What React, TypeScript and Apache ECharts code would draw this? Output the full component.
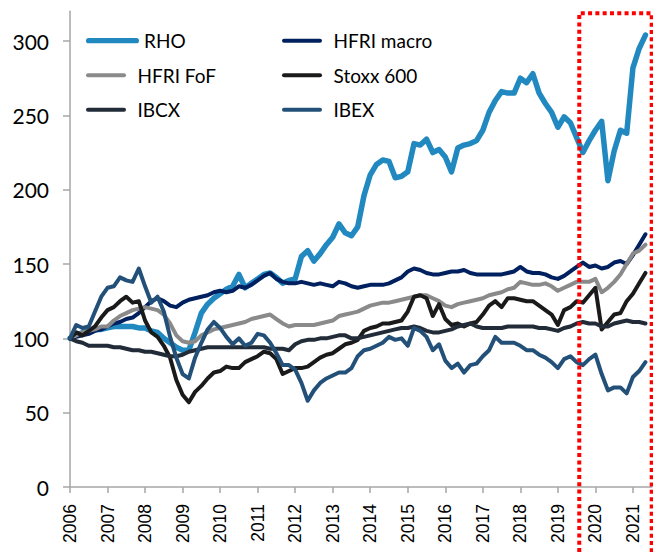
import React, { useEffect, useRef } from "react";
import * as echarts from "echarts";

const months = [
  "2006-01", "2006-03", "2006-05", "2006-07", "2006-09", "2006-11",
  "2007-01", "2007-03", "2007-05", "2007-07", "2007-09", "2007-11",
  "2008-01", "2008-03", "2008-05", "2008-07", "2008-09", "2008-11",
  "2009-01", "2009-03", "2009-05", "2009-07", "2009-09", "2009-11",
  "2010-01", "2010-03", "2010-05", "2010-07", "2010-09", "2010-11",
  "2011-01", "2011-03", "2011-05", "2011-07", "2011-09", "2011-11",
  "2012-01", "2012-03", "2012-05", "2012-07", "2012-09", "2012-11",
  "2013-01", "2013-03", "2013-05", "2013-07", "2013-09", "2013-11",
  "2014-01", "2014-03", "2014-05", "2014-07", "2014-09", "2014-11",
  "2015-01", "2015-03", "2015-05", "2015-07", "2015-09", "2015-11",
  "2016-01", "2016-03", "2016-05", "2016-07", "2016-09", "2016-11",
  "2017-01", "2017-03", "2017-05", "2017-07", "2017-09", "2017-11",
  "2018-01", "2018-03", "2018-05", "2018-07", "2018-09", "2018-11",
  "2019-01", "2019-03", "2019-05", "2019-07", "2019-09", "2019-11",
  "2020-01", "2020-03", "2020-05", "2020-07", "2020-09", "2020-11",
  "2021-01", "2021-03", "2021-05",
];

const yearTicks = [2006, 2007, 2008, 2009, 2010, 2011, 2012, 2013, 2014, 2015, 2016, 2017, 2018, 2019, 2020, 2021];
const valueTicks = [0, 50, 100, 150, 200, 250, 300];

const rho = [
  100, 102, 104, 105, 106, 106,
  107, 108, 108, 108, 108, 107,
  107, 105, 104, 100, 97, 94,
  92, 92, 104, 117, 123, 127,
  130, 133, 135, 143, 134, 137,
  140, 143, 144, 141, 137, 139,
  140, 155, 159, 152, 157, 163,
  168, 177, 171, 169, 175, 196,
  210, 217, 220, 219, 208, 209,
  212, 231, 230, 234, 225, 227,
  222, 212, 228, 230, 231, 233,
  240, 252, 260, 266, 265, 265,
  275, 272, 278, 265, 258, 252,
  242, 249, 245, 235, 225, 233,
  240, 246, 206, 226, 240, 238,
  282, 295, 304,
];

const hfriMacro = [
  100, 101, 102, 103, 105, 106,
  108, 110, 111, 113, 114, 117,
  121, 125, 127, 125, 122, 121,
  124, 126, 127, 128, 129, 131,
  132, 131, 132, 135, 134, 136,
  139, 142, 144, 140, 138, 137,
  137, 138, 137, 136, 137, 136,
  135, 138, 137, 135, 134, 135,
  136, 136, 136, 137, 139, 141,
  145, 147, 146, 144, 143, 143,
  144, 145, 145, 146, 144, 143,
  143, 143, 143, 143, 144, 145,
  148, 145, 144, 144, 143, 141,
  140, 142, 145, 148, 151, 148,
  149, 147, 148, 151, 152, 150,
  156, 163, 170,
];

const hfriFoF = [
  100, 102, 104, 105, 106, 108,
  108, 112, 115, 117, 119, 120,
  121, 120, 119, 116, 110, 102,
  98, 97, 98, 102, 104, 106,
  107, 108, 109, 110, 111, 113,
  114, 115, 116, 113, 110, 108,
  109, 109, 109, 109, 110, 111,
  112, 115, 116, 117, 118, 120,
  122, 123, 124, 124, 125, 126,
  127, 128, 129, 129, 127, 125,
  122, 121, 123, 124, 125, 126,
  127, 129, 130, 131, 133, 134,
  138, 137, 136, 136, 137, 135,
  132, 134, 136, 138, 138, 138,
  140, 131, 134, 138, 143, 150,
  157, 159, 163,
];

const stoxx600 = [
  100, 104, 102, 105, 108, 114,
  119, 121, 125, 128, 124, 125,
  112, 104, 101, 95, 87, 72,
  62, 57, 64, 68, 73, 77,
  78, 81, 80, 80, 84, 86,
  88, 91, 90, 86, 76, 78,
  80, 80, 81, 84, 87, 89,
  90, 93, 96, 97, 99, 105,
  107, 108, 110, 110, 111, 112,
  118, 128, 129, 127, 115, 123,
  113, 109, 110, 108, 110, 111,
  116, 122, 125, 121, 127, 127,
  126, 125, 125, 122, 119, 116,
  109, 119, 121, 125, 124, 129,
  134, 106, 111, 116, 117, 125,
  130, 137, 144,
];

const ibcx = [
  100, 98, 97, 95, 95, 95,
  95, 94, 94, 93, 92, 92,
  91, 91, 90, 89, 88, 88,
  89, 91, 92, 93, 94, 94,
  94, 94, 94, 94, 94, 94,
  94, 94, 93, 93, 93, 92,
  96, 98, 99, 99, 100, 100,
  101, 102, 102, 100, 100, 101,
  102, 103, 104, 105, 106, 107,
  107, 108, 107, 105, 104, 104,
  105, 106, 108, 109, 110, 108,
  107, 107, 107, 107, 108, 108,
  108, 108, 108, 107, 107, 106,
  105, 107, 108, 110, 111, 110,
  110, 108, 108, 110, 111, 112,
  111, 111, 110,
];

const ibex = [
  100, 109, 107, 108, 118, 128,
  134, 135, 141, 139, 138, 147,
  135, 124, 128, 118, 101, 87,
  76, 73, 87, 97, 106, 111,
  107, 101, 96, 100, 95, 97,
  103, 102, 97, 90, 82, 82,
  79, 70, 58, 65, 70, 73,
  75, 77, 77, 80, 88, 92,
  93, 95, 97, 101, 99, 100,
  95, 107, 105, 101, 92, 96,
  85, 80, 83, 77, 82, 83,
  88, 92, 101, 97, 97, 97,
  95, 92, 92, 89, 87, 84,
  80, 86, 88, 84, 82, 86,
  89, 76, 65, 67, 67, 63,
  74, 78, 84,
];

const highlightStart = 2019.57;
const highlightEnd = 2021.5;

const capIcon = "path://M5,0 H95 A5,5 0 0 1 95,10 H5 A5,5 0 0 1 5,0 Z";

export default function App() {
  const ref = useRef<HTMLDivElement>(null);

  useEffect(() => {
    document.body.style.margin = "0";
    const chart = echarts.init(ref.current!, null, { renderer: "svg" });
    const xs = months.map((m) => {
      const [y, mo] = m.split("-").map(Number);
      return y + (mo - 1) / 12;
    });
    const mk = (name: string, data: number[], color: string, width: number) => ({
      name,
      type: "line",
      data: data.map((v, i) => [xs[i], v]),
      showSymbol: false,
      symbol: "none",
      color,
      itemStyle: { color },
      lineStyle: { color, width, cap: "round", join: "round" },
    });

    const legendText = { fontSize: 19, lineHeight: 20, color: "#000", fontFamily: "Lato, sans-serif" };

    chart.setOption({
      animation: false,
      grid: { left: 70, right: 1.3, top: 11.3, bottom: 65, containLabel: false },
      legend: [
        {
          left: 86, top: 30.7, orient: "vertical", padding: 0, itemWidth: 53, itemHeight: 5.5,
          icon: capIcon, data: ["RHO"], textStyle: legendText,
        },
        {
          left: 86, top: 65.2, orient: "vertical", padding: 0, itemWidth: 53, itemHeight: 4,
          itemGap: 14.5, icon: capIcon, data: ["HFRI FoF", "IBCX"], textStyle: legendText,
        },
        {
          left: 282, top: 30.7, orient: "vertical", padding: 0, itemWidth: 53, itemHeight: 4,
          itemGap: 14.5, icon: capIcon, data: ["HFRI macro", "Stoxx 600", "IBEX"], textStyle: legendText,
        },
      ],
      xAxis: {
        type: "value",
        min: 2006,
        max: highlightEnd,
        splitLine: { show: false },
        axisLine: { show: true, lineStyle: { color: "#a6a6a6", width: 1.5 } },
        axisTick: { show: true, customValues: yearTicks, length: 6, lineStyle: { color: "#a6a6a6", width: 1.5 } },
        axisLabel: {
          customValues: yearTicks,
          rotate: 90,
          margin: 17,
          fontSize: 17.5,
          color: "#000",
          fontFamily: "Liberation Sans, Arial, sans-serif",
          formatter: (v: number) => String(v),
        },
      },
      yAxis: {
        type: "value",
        min: 0,
        max: 320,
        splitLine: { show: false },
        axisLine: { show: true, lineStyle: { color: "#a6a6a6", width: 1.5 } },
        axisTick: { show: true, customValues: valueTicks, length: 7, lineStyle: { color: "#a6a6a6", width: 1.5 } },
        axisLabel: {
          customValues: valueTicks,
          margin: 21,
          fontSize: 21,
          color: "#000",
          fontFamily: "Lato, sans-serif",
        },
      },
      series: [
        mk("RHO", rho, "#2189c0", 5.5),
        mk("HFRI macro", hfriMacro, "#002060", 4),
        mk("HFRI FoF", hfriFoF, "#8a8a8a", 4),
        mk("Stoxx 600", stoxx600, "#1a1a1a", 4),
        mk("IBCX", ibcx, "#222b38", 4),
        mk("IBEX", ibex, "#235079", 4),
      ],
    });

    const pTop = chart.convertToPixel({ gridIndex: 0 }, [highlightStart, 320]) as number[];
    const pEnd = chart.convertToPixel({ gridIndex: 0 }, [highlightEnd, 0]) as number[];
    const h = chart.getHeight();
    chart.setOption({
      graphic: [
        {
          type: "polyline",
          silent: true,
          z: 100,
          shape: {
            points: [
              [pTop[0], h],
              [pTop[0], pTop[1] + 2],
              [pEnd[0], pTop[1] + 2],
              [pEnd[0], h],
            ],
          },
          style: { stroke: "#ff0000", lineWidth: 4, lineDash: [4, 3.3], fill: null },
        },
      ],
    });

    return () => chart.dispose();
  }, []);

  return <div ref={ref} style={{ width: 653, height: 552 }} />;
}
